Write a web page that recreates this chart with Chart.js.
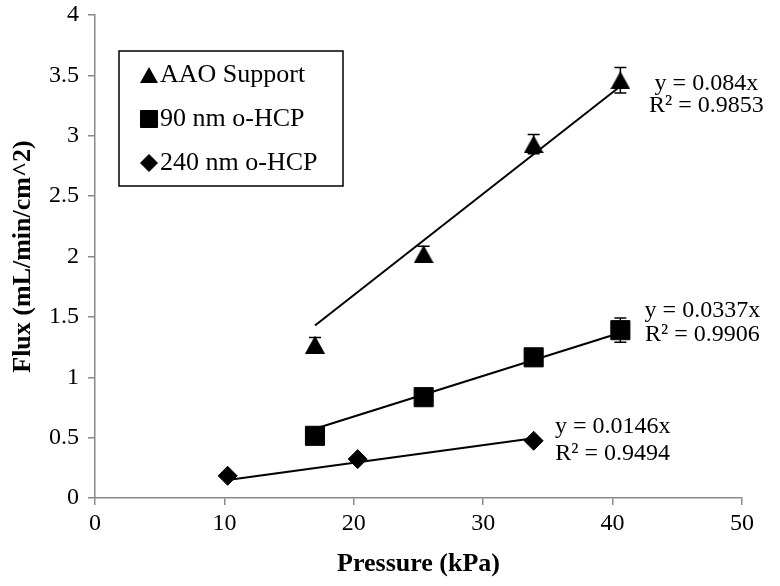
<!DOCTYPE html>
<html lang="en">
<head>
  <meta charset="UTF-8" />
  <title>Flux vs Pressure</title>
  <script src="https://cdn.jsdelivr.net/npm/chart.js"></script>
  <style>
    body {
      margin: 0;
      background: #fff;
    }
  </style>
</head>
<body>
  <canvas id="fluxChart" width="780" height="586"></canvas>

  <script>
    // measured points (pressure in kPa, flux in mL/min/cm^2)
    const seriesNames = ['AAO Support', '90 nm o-HCP', '240 nm o-HCP'];

    const pressureAAO = [17.0, 25.4, 33.9, 40.6];
    const fluxAAO = [1.27, 2.02, 2.93, 3.46];
    const errAAO = [0.06, 0.065, 0.08, 0.105];

    const pressure90 = [17.0, 25.4, 33.9, 40.6];
    const flux90 = [0.515, 0.835, 1.165, 1.39];
    const err90 = [0.03, 0.03, 0.03, 0.1];

    const pressure240 = [10.25, 20.3, 33.9];
    const flux240 = [0.184, 0.322, 0.474];
    const err240 = [0.01, 0.01, 0.01];

    // linear fits through the origin
    const slopes = [0.084, 0.0337, 0.0146];
    const rSquared = ['0.9853', '0.9906', '0.9494'];

    const xTicks = [0, 10, 20, 30, 40, 50];
    const yTicks = [0, 0.5, 1, 1.5, 2, 2.5, 3, 3.5, 4];

    const serif = "'Liberation Serif', 'Times New Roman', serif";
    const pressures = [pressureAAO, pressure90, pressure240];
    const fluxes = [fluxAAO, flux90, flux240];
    const errors = [errAAO, err90, err240];

    // triangle centred on its bounding box, like the spreadsheet marker
    function triangleMarker(w, h) {
      const c = document.createElement('canvas');
      c.width = w;
      c.height = h;
      const g = c.getContext('2d');
      g.fillStyle = '#000';
      g.beginPath();
      g.moveTo(w / 2, 0);
      g.lineTo(w, h);
      g.lineTo(0, h);
      g.closePath();
      g.fill();
      return c;
    }

    const styles = [triangleMarker(20, 18), 'rect', 'rectRot'];
    const legendStyles = [triangleMarker(18, 16), 'rect', 'rectRot'];
    const radii = [11, 13.5, 9.5];
    const legendRadii = [10, 12, 8.5];

    // where each trendline label sits relative to the last point of its series
    const labelPos = [
      { dx: 86, dy1: 3, dy2: 25 },
      { dx: 82, dy1: -19, dy2: 5 },
      { dx: 79, dy1: -14, dy2: 13 }
    ];

    function toPoints(xs, ys) {
      return xs.map((x, i) => ({ x: x, y: ys[i] }));
    }

    const datasets = [];
    for (let s = 0; s < 3; s++) {
      datasets.push({
        label: seriesNames[s],
        data: toPoints(pressures[s], fluxes[s]),
        showLine: false,
        pointStyle: styles[s],
        pointRadius: radii[s],
        pointBackgroundColor: '#000',
        pointBorderColor: '#000',
        pointBorderWidth: 1,
        order: 0
      });
    }
    for (let s = 0; s < 3; s++) {
      const xMin = Math.min(...pressures[s]);
      const xMax = Math.max(...pressures[s]);
      datasets.push({
        label: 'fit ' + seriesNames[s],
        type: 'line',
        data: [{ x: xMin, y: slopes[s] * xMin }, { x: xMax, y: slopes[s] * xMax }],
        borderColor: '#000',
        borderWidth: 2,
        pointRadius: 0,
        fill: false,
        order: 1
      });
    }

    const errorBars = {
      id: 'errorBars',
      beforeDatasetsDraw(chart) {
        const { ctx, scales: { x, y } } = chart;
        ctx.save();
        ctx.strokeStyle = '#000';
        ctx.lineWidth = 1.5;
        for (let s = 0; s < 3; s++) {
          pressures[s].forEach((p, i) => {
            const px = x.getPixelForValue(p);
            const top = y.getPixelForValue(fluxes[s][i] + errors[s][i]);
            const bot = y.getPixelForValue(fluxes[s][i] - errors[s][i]);
            ctx.beginPath();
            ctx.moveTo(px, top);
            ctx.lineTo(px, bot);
            ctx.moveTo(px - 6, top);
            ctx.lineTo(px + 6, top);
            ctx.moveTo(px - 6, bot);
            ctx.lineTo(px + 6, bot);
            ctx.stroke();
          });
        }
        ctx.restore();
      }
    };

    const fitLabels = {
      id: 'fitLabels',
      afterDatasetsDraw(chart) {
        const { ctx, scales: { x, y } } = chart;
        ctx.save();
        ctx.fillStyle = '#000';
        ctx.font = '24px ' + serif;
        ctx.textAlign = 'center';
        ctx.textBaseline = 'middle';
        for (let s = 0; s < 3; s++) {
          const n = pressures[s].length - 1;
          const px = x.getPixelForValue(pressures[s][n]);
          const py = y.getPixelForValue(fluxes[s][n]);
          const pos = labelPos[s];
          ctx.fillText('y = ' + slopes[s] + 'x', px + pos.dx, py + pos.dy1);
          ctx.fillText('R² = ' + rSquared[s], px + pos.dx, py + pos.dy2);
        }
        ctx.restore();
      }
    };

    const boxLegend = {
      id: 'boxLegend',
      afterDraw(chart) {
        const ctx = chart.ctx;
        const left = 119, top = 51, w = 224, h = 135;
        ctx.save();
        ctx.strokeStyle = '#000';
        ctx.lineWidth = 1.5;
        ctx.strokeRect(left, top, w, h);
        ctx.fillStyle = '#000';
        ctx.strokeStyle = '#000';
        ctx.lineWidth = 1;
        ctx.font = '26px ' + serif;
        ctx.textAlign = 'left';
        ctx.textBaseline = 'middle';
        for (let s = 0; s < 3; s++) {
          const cy = top + 24 + s * 44;
          Chart.helpers.drawPoint(ctx, {
            pointStyle: legendStyles[s],
            radius: legendRadii[s],
            rotation: 0,
            borderWidth: 1
          }, 149, cy);
          ctx.fillText(seriesNames[s], 160, cy);
        }
        ctx.restore();
      }
    };

    const axisGrid = {
      display: true,
      drawOnChartArea: false,
      drawTicks: true,
      tickLength: 7,
      color: '#898989',
      lineWidth: 1.5
    };

    new Chart(document.getElementById('fluxChart'), {
      type: 'scatter',
      data: { datasets: datasets },
      options: {
        responsive: false,
        animation: false,
        layout: { padding: { top: 0, right: 38, left: 0, bottom: 0 } },
        plugins: {
          legend: { display: false },
          tooltip: { enabled: false }
        },
        scales: {
          x: {
            type: 'linear',
            min: 0,
            max: 50,
            afterBuildTicks: axis => { axis.ticks = xTicks.map(v => ({ value: v })); },
            afterFit: axis => { axis.height = 88; },
            grid: axisGrid,
            border: { color: '#898989', width: 1.5 },
            ticks: { color: '#000', padding: 4, font: { family: serif, size: 24 } },
            title: {
              display: true,
              text: 'Pressure (kPa)',
              color: '#000',
              padding: { bottom: 6 },
              font: { family: serif, size: 26, weight: 'bold' }
            }
          },
          y: {
            type: 'linear',
            min: 0,
            max: 4,
            afterBuildTicks: axis => { axis.ticks = yTicks.map(v => ({ value: v })); },
            afterFit: axis => {
              axis.width = 95;
              axis.paddingTop = 15;
            },
            grid: axisGrid,
            border: { color: '#898989', width: 1.5 },
            ticks: {
              color: '#000',
              padding: 9,
              font: { family: serif, size: 24 },
              callback: v => String(v)
            },
            title: {
              display: true,
              text: 'Flux (mL/min/cm^2)',
              color: '#000',
              padding: { top: 8 },
              font: { family: serif, size: 26, weight: 'bold' }
            }
          }
        }
      },
      plugins: [errorBars, fitLabels, boxLegend]
    });
  </script>
</body>
</html>
